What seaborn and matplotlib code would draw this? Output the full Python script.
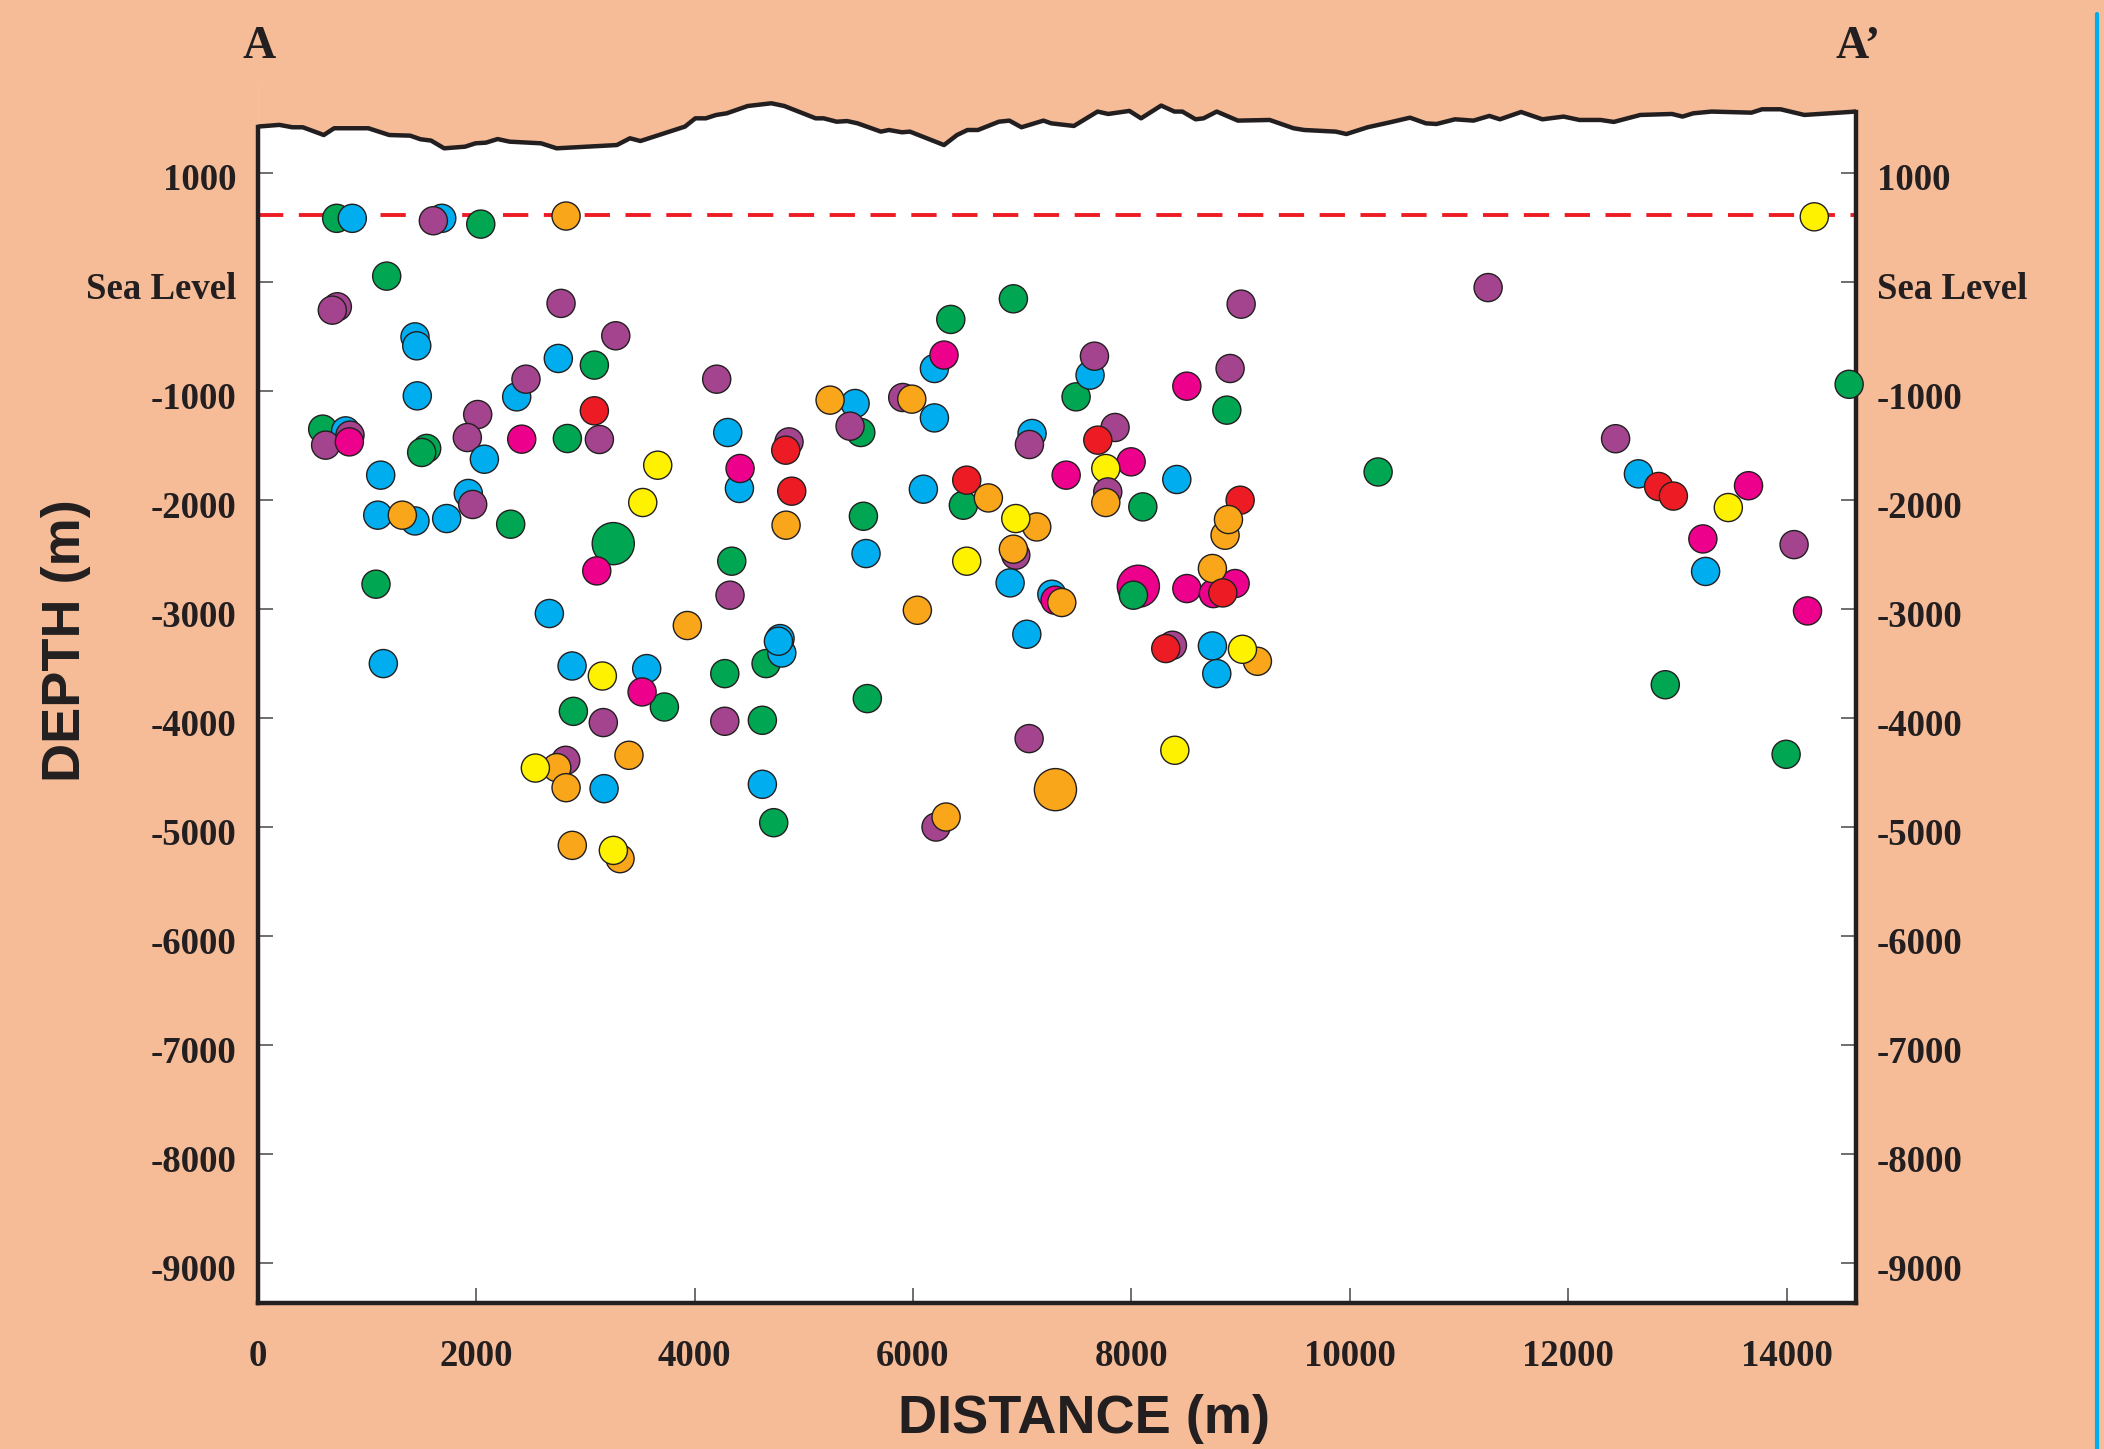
import matplotlib
matplotlib.use('Agg')
import matplotlib.pyplot as plt
import matplotlib.transforms as mtransforms
import seaborn as sns
import pandas as pd
from matplotlib.lines import Line2D

# earthquake hypocentres along section A-A' (distance m, depth m)
dist_m = [724, 867, 1686, 1609, 2043, 2824, 1182, 730, 684, 2778,
          1441, 1457, 3279, 2753, 3083, 1462, 2372, 2457, 3083, 596,
          806, 846, 623, 840, 2015, 1548, 1502, 1920, 2076, 2418,
          2836, 3129, 1127, 1929, 1969, 1100, 1441, 1325, 1731, 2317,
          3256, 3105, 4203, 4304, 4411, 4417, 4865, 4835, 4890, 4838,
          3663, 3526, 5470, 5241, 5522, 5424, 5906, 5989, 6196, 6196,
          6284, 6346, 6095, 6461, 6492, 6690, 5546, 6919, 9004, 7493,
          7621, 7661, 8903, 8507, 8873, 7090, 7066, 7850, 7692, 7997,
          7765, 7402, 8415, 7783, 7765, 8104, 7133, 6941, 8995, 8857,
          8888, 1084, 2671, 1151, 2879, 3156, 2891, 3165, 2821, 2739,
          2543, 2824, 3172, 3400, 2881, 3318, 3257, 4341, 4325, 3934,
          5570, 6492, 6040, 4655, 4799, 4783, 4768, 3562, 3724, 3520,
          4277, 4277, 4621, 5582, 4621, 4725, 6211, 6303, 6941, 6919,
          6889, 7271, 7301, 7362, 7042, 8063, 8018, 8507, 8949, 8750,
          8741, 8836, 8375, 8314, 8741, 8781, 9153, 9016, 7063, 7304,
          8397, 11265, 14251, 14570, 12432, 10258, 12641, 12826, 12961, 13649,
          13464, 13231, 14066, 13256, 14189, 12887, 13993]
depth_m = [582, 582, 582, 560, 529, 603, 52, -229, -260, -198,
           -505, -587, -495, -703, -764, -1046, -1055, -893, -1183, -1351,
           -1367, -1406, -1498, -1468, -1217, -1528, -1565, -1428, -1627, -1443,
           -1437, -1446, -1773, -1941, -2042, -2140, -2193, -2140, -2171, -2223,
           -2401, -2651, -893, -1382, -1895, -1712, -1468, -1544, -1920, -2232,
           -1682, -2024, -1116, -1085, -1382, -1324, -1061, -1076, -1248, -795,
           -672, -345, -1902, -2049, -1819, -1982, -2150, -156, -205, -1055,
           -856, -682, -795, -957, -1177, -1391, -1492, -1336, -1452, -1651,
           -1712, -1773, -1813, -1927, -2024, -2064, -2248, -2171, -2003, -2324,
           -2180, -2773, -3042, -3501, -3523, -3615, -3939, -4042, -4388, -4455,
           -4459, -4639, -4648, -4342, -5168, -5290, -5214, -2562, -2874, -3152,
           -2492, -2562, -3012, -3501, -3404, -3272, -3296, -3547, -3899, -3761,
           -3593, -4030, -4021, -3822, -4608, -4960, -5000, -4908, -2507, -2452,
           -2761, -2865, -2920, -2941, -3232, -2792, -2874, -2813, -2767, -2859,
           -2629, -2853, -3333, -3363, -3339, -3593, -3480, -3370, -4189, -4657,
           -4296, -53, 596, -940, -1439, -1744, -1761, -1877, -1965, -1870,
           -2070, -2358, -2410, -2656, -3018, -3695, -4333]
group = ['green', 'blue', 'blue', 'purple', 'green', 'orange', 'green', 'purple', 'purple', 'purple',
         'blue', 'blue', 'purple', 'blue', 'green', 'blue', 'blue', 'purple', 'red', 'green',
         'blue', 'purple', 'purple', 'magenta', 'purple', 'green', 'green', 'purple', 'blue', 'magenta',
         'green', 'purple', 'blue', 'blue', 'purple', 'blue', 'blue', 'orange', 'blue', 'green',
         'green', 'magenta', 'purple', 'blue', 'blue', 'magenta', 'purple', 'red', 'red', 'orange',
         'yellow', 'yellow', 'blue', 'orange', 'green', 'purple', 'purple', 'orange', 'blue', 'blue',
         'magenta', 'green', 'blue', 'green', 'red', 'orange', 'green', 'green', 'purple', 'green',
         'blue', 'purple', 'purple', 'magenta', 'green', 'blue', 'purple', 'purple', 'red', 'magenta',
         'yellow', 'magenta', 'blue', 'purple', 'orange', 'green', 'orange', 'yellow', 'red', 'orange',
         'orange', 'green', 'blue', 'blue', 'blue', 'yellow', 'green', 'purple', 'purple', 'orange',
         'yellow', 'orange', 'blue', 'orange', 'orange', 'orange', 'yellow', 'green', 'purple', 'orange',
         'blue', 'yellow', 'orange', 'green', 'blue', 'blue', 'blue', 'blue', 'green', 'magenta',
         'green', 'purple', 'green', 'green', 'blue', 'green', 'purple', 'orange', 'purple', 'orange',
         'blue', 'blue', 'magenta', 'orange', 'blue', 'magenta', 'green', 'magenta', 'magenta', 'magenta',
         'orange', 'red', 'purple', 'red', 'blue', 'blue', 'orange', 'yellow', 'purple', 'orange',
         'yellow', 'purple', 'yellow', 'green', 'purple', 'green', 'blue', 'red', 'red', 'magenta',
         'yellow', 'magenta', 'purple', 'blue', 'magenta', 'green', 'green']
big_events = [40, 135, 149]   # row numbers of the three large circles

# ground surface profile
prof_x = [0, 199, 318, 414, 606, 701, 1014, 1205, 1397, 1492,
          1588, 1708, 1899, 1995, 2091, 2197, 2307, 2595, 2738, 3289,
          3409, 3505, 3912, 4007, 4103, 4199, 4295, 4487, 4703, 4822,
          5109, 5182, 5301, 5397, 5493, 5706, 5780, 5899, 5972, 6284,
          6403, 6499, 6595, 6786, 6882, 6993, 7194, 7266, 7473, 7690,
          7787, 7981, 8088, 8272, 8393, 8466, 8587, 8660, 8781, 8974,
          9265, 9484, 9581, 9871, 9968, 10162, 10356, 10550, 10696, 10792,
          10962, 11131, 11276, 11373, 11567, 11762, 11956, 12101, 12295, 12415,
          12659, 12948, 13045, 13143, 13312, 13676, 13773, 13942, 14160, 14630]
prof_y = [1423, 1439, 1417, 1417, 1346, 1408, 1408, 1346, 1340, 1307,
          1295, 1224, 1239, 1270, 1276, 1309, 1285, 1270, 1224, 1254,
          1316, 1291, 1423, 1499, 1499, 1530, 1545, 1612, 1637, 1612,
          1499, 1499, 1468, 1474, 1453, 1377, 1392, 1371, 1377, 1254,
          1346, 1392, 1392, 1468, 1478, 1417, 1478, 1453, 1429, 1561,
          1539, 1567, 1499, 1616, 1561, 1561, 1490, 1499, 1561, 1478,
          1484, 1408, 1392, 1377, 1355, 1417, 1460, 1505, 1453, 1447,
          1490, 1478, 1521, 1490, 1557, 1490, 1515, 1484, 1484, 1466,
          1530, 1539, 1515, 1545, 1561, 1551, 1582, 1582, 1530, 1561]

water_level = 615
y_ticks = [1000, 0, -1000, -2000, -3000, -4000, -5000, -6000, -7000, -8000, -9000]
y_tick_labels = ['1000', 'Sea Level', '-1000', '-2000', '-3000', '-4000', '-5000',
                 '-6000', '-7000', '-8000', '-9000']
x_ticks = [0, 2000, 4000, 6000, 8000, 10000, 12000, 14000]

palette = {'green': '#00A651', 'blue': '#00AEEF', 'purple': '#A4448E',
           'magenta': '#EC008C', 'red': '#ED1C24', 'orange': '#F9A61A',
           'yellow': '#FFF200'}
peach = '#F6BB97'
ink = '#231F20'

df = pd.DataFrame({'dist': dist_m, 'depth': depth_m, 'group': group})
df['size'] = ['large' if i in big_events else 'normal' for i in range(len(df))]

sns.set_theme(style='white')
plt.rcParams['font.family'] = ['Liberation Serif', 'DejaVu Serif']
plt.rcParams['font.weight'] = 'bold'

fig = plt.figure(figsize=(21.04, 14.49), dpi=100, facecolor=peach)
ax = fig.add_axes([0.12243, 0.10110, 0.75955, 0.83989])
ax.set_facecolor('white')

xmax, ymin, ymax = 14630, -9360, 1800

# sky above the ground surface
ax.fill_between(prof_x, prof_y, ymax, color=peach, lw=0, zorder=2.6)
ax.plot(prof_x, prof_y, color=ink, lw=3.2, zorder=4)
ax.axhline(water_level, color='#ED1C24', lw=2.8, ls=(0, (6.5, 4)), zorder=3)

sns.scatterplot(data=df, x='dist', y='depth', hue='group', palette=palette,
                size='size', sizes={'normal': 410, 'large': 920},
                edgecolor=ink, linewidth=1, legend=False, ax=ax,
                zorder=5, clip_on=False)

ax.set_xlim(0, xmax)
ax.set_ylim(ymin, ymax)
ax.set_xlabel('')
ax.set_ylabel('')

ax.spines['top'].set_visible(False)
for side in ['left', 'right', 'bottom']:
    ax.spines[side].set_color(ink)
    ax.spines[side].set_linewidth(3.2)
    ax.spines[side].set_zorder(4)
ax.spines['left'].set_bounds(ymin, prof_y[0])
ax.spines['right'].set_bounds(ymin, prof_y[-1])

ax.set_xticks(x_ticks)
ax.set_xticklabels([str(v) for v in x_ticks])
ax.set_yticks(y_ticks)
ax.set_yticklabels(y_tick_labels)
ax.tick_params(axis='both', direction='in', length=11, width=1.2, color='#555555',
               labelsize=26.5, labelcolor=ink)
ax.tick_params(axis='y', left=True, right=True, labelleft=True, labelright=True, pad=15)
ax.tick_params(axis='x', bottom=True, top=False, pad=26)

# nudge the y labels down a little, like the original
shift = mtransforms.ScaledTranslation(0, -3 / 72, fig.dpi_scale_trans)
for t in ax.yaxis.get_major_ticks():
    t.label1.set_transform(t.label1.get_transform() + shift)
    t.label2.set_transform(t.label2.get_transform() + shift)

fig.text(0.1231, 0.9676, 'A', fontsize=33, fontweight='bold', color=ink,
         ha='center', va='center', family='Liberation Serif')
fig.text(0.883, 0.9676, 'A\u2019', fontsize=33, fontweight='bold', color=ink,
         ha='center', va='center', family='Liberation Serif')
fig.text(0.5152, 0.0205, 'DISTANCE (m)', fontsize=39, fontweight='bold', color=ink,
         ha='center', va='center', family='Liberation Sans')
fig.text(0.0315, 0.5576, 'DEPTH (m)', fontsize=39, fontweight='bold', color=ink,
         ha='center', va='center', rotation=90, family='Liberation Sans')

fig.add_artist(Line2D([0.9967, 0.9967], [0, 0.99], transform=fig.transFigure,
                      color='#00AEEF', lw=3))

fig.savefig('out.png', dpi=100, facecolor=peach)
